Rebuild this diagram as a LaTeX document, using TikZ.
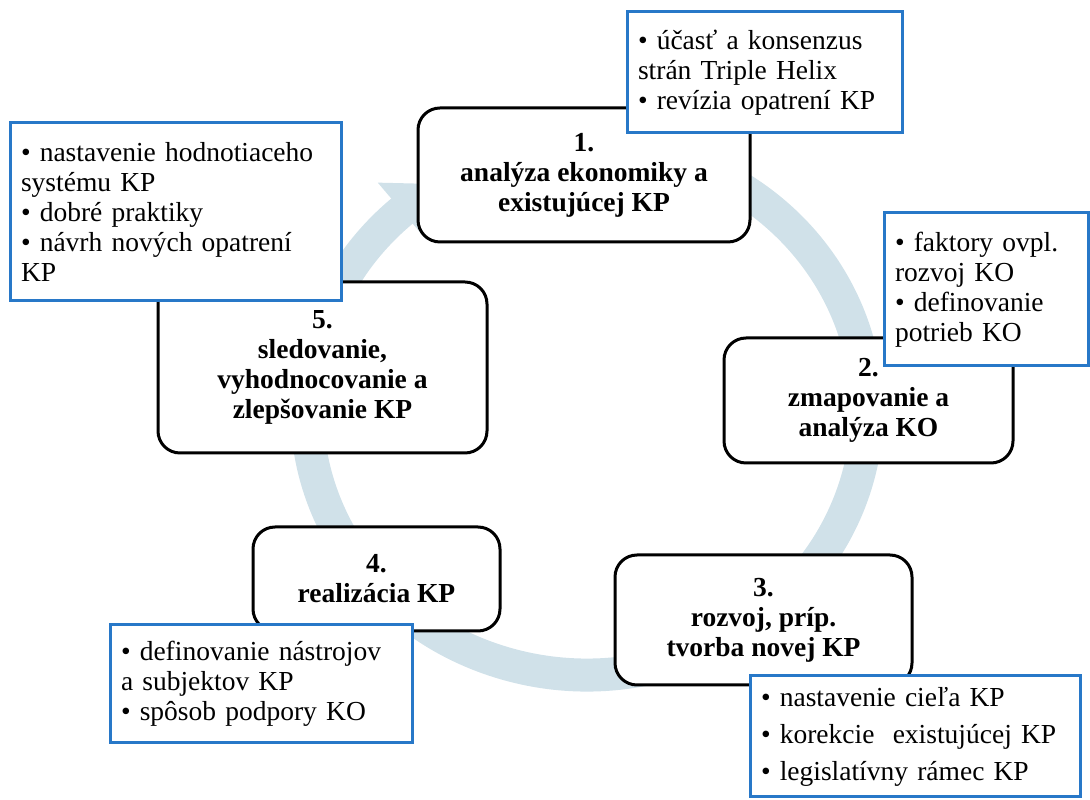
\documentclass[tikz,border=0pt]{standalone}
\usepackage{fontspec}
\setmainfont{Liberation Serif}
\usetikzlibrary{arrows.meta}
\definecolor{ringblue}{RGB}{208,225,233}
\definecolor{noteblue}{RGB}{40,120,200}
\begin{document}
\begin{tikzpicture}[x=1pt,y=1pt,
  stage/.style={draw=black, line width=3pt, rounded corners=22pt, fill=white,
    align=center, inner sep=0pt,
    font=\fontsize{27.5}{30}\selectfont\bfseries},
  note/.style={draw=noteblue, line width=3pt, fill=white, align=left,
    inner xsep=11pt, inner ysep=0pt,
    font=\fontsize{27.5}{30}\selectfont},
  ring/.style={draw=ringblue, line width=33pt,
    -{Triangle[length=42pt,width=72pt]}}]
\useasboundingbox (0,0) rectangle (1090,800);

% circular process arrow behind the stages
\draw[ring] (587,390) ++(70:280 and 265)
  arc[start angle=70, end angle=-228, x radius=280, y radius=265]
  -- ++(34.3,29.2);

% stages of the cycle
\node[stage, minimum width=332pt, minimum height=134pt] (s1) at (584,625)
  {1.\\analýza ekonomiky a\\existujúcej KP};
\node[stage, minimum width=289pt, minimum height=125pt] (s2) at (868.5,399.5)
  {2.\\zmapovanie a\\analýza KO};
\node[stage, minimum width=297pt, minimum height=130pt] (s3) at (763.5,180)
  {3.\\rozvoj, príp.\\tvorba novej KP};
\node[stage, minimum width=247pt, minimum height=104pt] (s4) at (376.5,221)
  {4.\\realizácia KP};
\node[stage, minimum width=329pt, minimum height=171pt] (s5) at (322.5,432.5)
  {5.\\sledovanie,\\vyhodnocovanie a\\zlepšovanie KP};

% notes attached to the stages
\node[note, text width=253pt, minimum height=121pt] (n1) at (764.5,727.5)
  {• účasť a konsenzus\\strán Triple Helix\\• revízia opatrení KP};
\node[note, text width=182pt, minimum height=153pt] (n2) at (986,510.5)
  {• faktory ovpl.\\rozvoj KO\\• definovanie\\potrieb KO};
\node[note, text width=308pt, minimum height=121pt] (n3) at (915,63.5)
  {• nastavenie cieľa KP\\[7pt]• korekcie\ \ existujúcej KP\\[7pt]• legislatívny rámec KP};
\node[note, text width=280pt, minimum height=118pt] (n4) at (261,116)
  {• definovanie nástrojov\\a subjektov KP\\• spôsob podpory KO};
\node[note, text width=309pt, minimum height=178pt] (n5) at (175.5,588)
  {• nastavenie hodnotiaceho\\systému KP\\• dobré praktiky\\• návrh nových opatrení\\KP};
\end{tikzpicture}
\end{document}
